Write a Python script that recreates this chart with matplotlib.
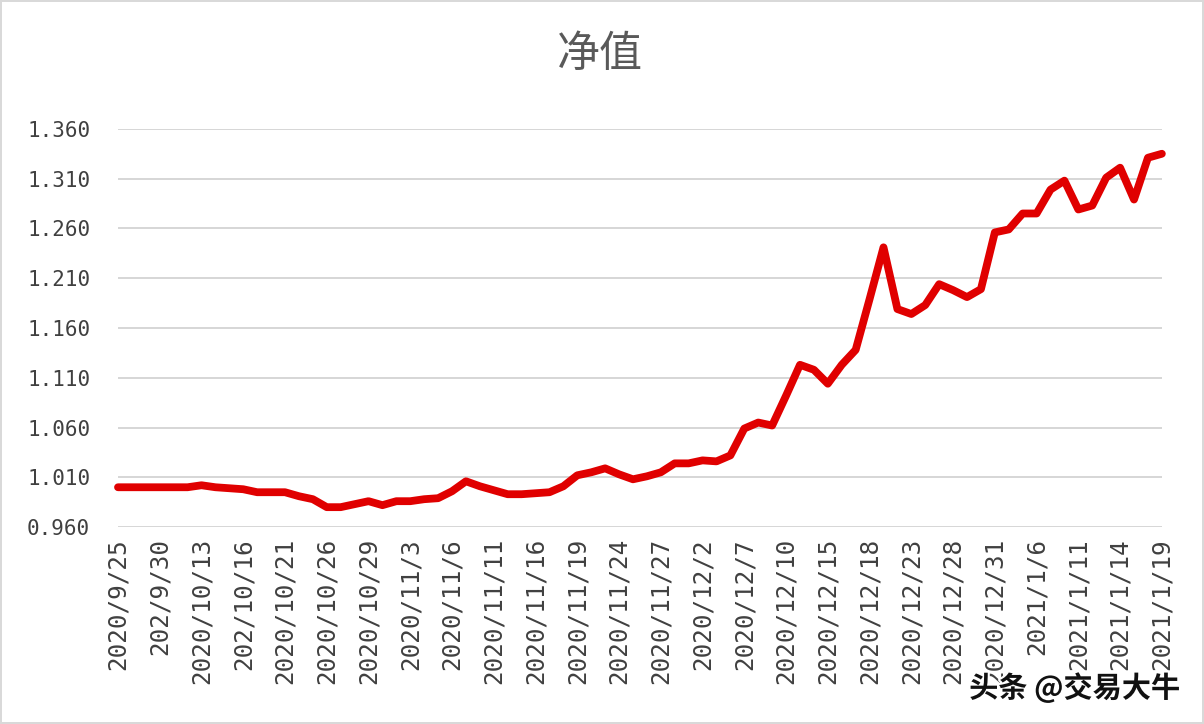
import matplotlib
matplotlib.use("Agg")
import matplotlib.pyplot as plt
import matplotlib.patheffects as pe

plt.rcParams['font.family'] = ['Noto Sans CJK SC', 'DejaVu Sans']

# trading days, 2020/9/25 .. 2021/1/19
dates = [
    "2020/9/25", "2020/9/28", "2020/9/29", "2020/9/30",
    "2020/10/9", "2020/10/12", "2020/10/13", "2020/10/14", "2020/10/15", "2020/10/16",
    "2020/10/19", "2020/10/20", "2020/10/21", "2020/10/22", "2020/10/23", "2020/10/26",
    "2020/10/27", "2020/10/28", "2020/10/29", "2020/10/30",
    "2020/11/2", "2020/11/3", "2020/11/4", "2020/11/5", "2020/11/6", "2020/11/9",
    "2020/11/10", "2020/11/11", "2020/11/12", "2020/11/13", "2020/11/16", "2020/11/17",
    "2020/11/18", "2020/11/19", "2020/11/20", "2020/11/23", "2020/11/24", "2020/11/25",
    "2020/11/26", "2020/11/27", "2020/11/30",
    "2020/12/1", "2020/12/2", "2020/12/3", "2020/12/4", "2020/12/7", "2020/12/8",
    "2020/12/9", "2020/12/10", "2020/12/11", "2020/12/14", "2020/12/15", "2020/12/16",
    "2020/12/17", "2020/12/18", "2020/12/21", "2020/12/22", "2020/12/23", "2020/12/24",
    "2020/12/25", "2020/12/28", "2020/12/29", "2020/12/30", "2020/12/31",
    "2021/1/4", "2021/1/5", "2021/1/6", "2021/1/7", "2021/1/8", "2021/1/11",
    "2021/1/12", "2021/1/13", "2021/1/14", "2021/1/15", "2021/1/18", "2021/1/19",
]

nav = [
    1.000, 1.000, 1.000, 1.000, 1.000, 1.000, 1.002, 1.000, 0.999, 0.998,
    0.995, 0.995, 0.995, 0.991, 0.988, 0.980, 0.980, 0.983, 0.986, 0.982,
    0.986, 0.986, 0.988, 0.989, 0.996, 1.006, 1.001, 0.997, 0.993, 0.993,
    0.994, 0.995, 1.001, 1.012, 1.015, 1.019, 1.013, 1.008, 1.011, 1.015,
    1.024, 1.024, 1.027, 1.026, 1.032, 1.059, 1.065, 1.062, 1.092, 1.123,
    1.118, 1.104, 1.123, 1.138, 1.189, 1.241, 1.179, 1.174, 1.183, 1.204,
    1.198, 1.191, 1.199, 1.256, 1.259, 1.275, 1.275, 1.299, 1.308, 1.279,
    1.283, 1.311, 1.321, 1.289, 1.331, 1.335,
]

# labels as printed on the original axis (every third day, typos kept)
tick_labels = [
    "2020/9/25", "202/9/30", "2020/10/13", "202/10/16", "2020/10/21", "2020/10/26",
    "2020/10/29", "2020/11/3", "2020/11/6", "2020/11/11", "2020/11/16", "2020/11/19",
    "2020/11/24", "2020/11/27", "2020/12/2", "2020/12/7", "2020/12/10", "2020/12/15",
    "2020/12/18", "2020/12/23", "2020/12/28", "2020/12/31", "2021/1/6", "2021/1/11",
    "2021/1/14", "2021/1/19",
]
y_ticks = [0.960, 1.010, 1.060, 1.110, 1.160, 1.210, 1.260, 1.310, 1.360]

fig = plt.figure(figsize=(12.04, 7.24), dpi=100)
fig.patch.set_edgecolor("#d9d9d9")
fig.patch.set_linewidth(1.5)
ax = fig.add_axes([0.098, 0.272, 0.867, 0.550])

x = list(range(len(dates)))
ax.plot(x, nav, color="#e00000", lw=5.6, solid_joinstyle="round",
        solid_capstyle="round", zorder=3, clip_on=False)

ax.set_xlim(0, len(dates) - 1)
ax.set_ylim(0.960, 1.360)
ax.set_yticks(y_ticks)
ax.set_yticklabels([f"{v:.3f}" for v in y_ticks], family="DejaVu Sans Mono",
                   fontsize=15, color="#404040")
ax.set_xticks(x[::3])
ax.set_xticklabels(tick_labels, rotation=90, family="DejaVu Sans Mono",
                   fontsize=17.5, color="#404040")
ax.tick_params(axis="y", length=0, pad=20)
ax.tick_params(axis="x", length=0, pad=8)

ax.grid(axis="y", color="#d0d0d0", lw=1.2)
for s in ax.spines.values():
    s.set_visible(False)

fig.text(0.498, 0.924, "净值", ha="center", va="center", fontsize=31,
         color="#595959")

fig.text(0.98, 0.05, "头条 @交易大牛", ha="right", va="center", fontsize=21,
         fontweight="bold", color="#111111",
         path_effects=[pe.withStroke(linewidth=3, foreground="white")])

fig.savefig("out.png", dpi=100)
